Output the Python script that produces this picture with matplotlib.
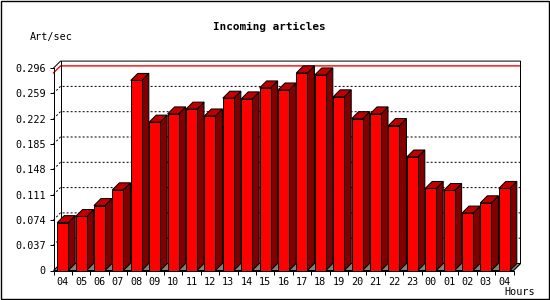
import matplotlib
matplotlib.use("Agg")
import matplotlib.pyplot as plt
from matplotlib.patches import Polygon, Rectangle
from matplotlib.ticker import FixedLocator

# ---- data ----
hours = ["04", "05", "06", "07", "08", "09", "10", "11", "12", "13", "14", "15",
         "16", "17", "18", "19", "20", "21", "22", "23", "00", "01", "02", "03", "04"]
values = [0.070, 0.079, 0.095, 0.118, 0.278, 0.217, 0.229, 0.236, 0.226, 0.252,
          0.251, 0.267, 0.264, 0.289, 0.286, 0.254, 0.222, 0.229, 0.212, 0.166,
          0.120, 0.117, 0.084, 0.099, 0.120]
y_ticks = [0, 0.037, 0.074, 0.111, 0.148, 0.185, 0.222, 0.259, 0.296]
y_tick_labels = ["0", "0.037", "0.074", "0.111", "0.148", "0.185", "0.222", "0.259", "0.296"]
title = "Incoming articles"
y_label = "Art/sec"
x_label = "Hours"

plt.rcParams["font.family"] = ["DejaVu Sans Mono"]

W, H = 550, 300
fig = plt.figure(figsize=(5.5, 3), dpi=100)
fig.patch.set_facecolor("white")

n = len(hours)
ymax = y_ticks[-1]
ax = fig.add_axes([53.5 / W, 29.5 / H, 460 / W, 202.4 / H])
ax.set_xlim(0, n)
ax.set_ylim(0, ymax)
ax.patch.set_visible(False)
for s in ax.spines.values():
    s.set_visible(False)

px_x = n / 460.0
px_y = ymax / 202.4
DX = 7 * px_x
DY = 7 * px_y
LW = 0.72
bw = 0.6

# grid lines on back wall (with diagonal from front axis)
for v in y_ticks[1:-1]:
    ax.plot([0, DX, n + DX], [v, v + DY, v + DY], color="black", lw=LW,
            ls=(0, (2.0, 2.0)), clip_on=False, zorder=1)

# max line
vm = max(values)
ax.plot([0, DX, n + DX], [vm, vm + DY, vm + DY], color="#ff0000", lw=1.0,
        clip_on=False, zorder=1.5)

# back box
ax.plot([0, DX, n + DX, n + DX, n], [ymax, ymax + DY, ymax + DY, DY, 0],
        color="black", lw=LW, clip_on=False, zorder=1.6)
ax.plot([DX, DX], [DY, ymax + DY], color="black", lw=LW, clip_on=False, zorder=1.6)

# floor
ax.add_patch(Polygon([(0, 0), (n, 0), (n + DX, DY), (DX, DY)], closed=True,
                     fc="#808080", ec="black", lw=LW, clip_on=False, zorder=2))

# bars
for i, v in enumerate(values):
    x0 = i + (1 - bw) / 2
    x1 = x0 + bw
    z = 3 + i * 0.01
    ax.add_patch(Polygon([(x1, 0), (x1 + DX, DY), (x1 + DX, v + DY), (x1, v)],
                         closed=True, fc="#800000", ec="black", lw=LW,
                         clip_on=False, zorder=z))
    ax.add_patch(Polygon([(x0, v), (x1, v), (x1 + DX, v + DY), (x0 + DX, v + DY)],
                         closed=True, fc="#c00000", ec="black", lw=LW,
                         clip_on=False, zorder=z))
    ax.add_patch(Rectangle((x0, 0), bw, v, fc="#ff0000", ec="black", lw=LW,
                           clip_on=False, zorder=z + 0.001))

# front axes
ax.plot([0, 0], [0, ymax], color="black", lw=LW, clip_on=False, zorder=10)
ax.plot([0, n], [0, 0], color="black", lw=LW, clip_on=False, zorder=10)

# ticks
ax.set_yticks(y_ticks, y_tick_labels)
ax.tick_params(axis="y", length=2.9, width=LW, pad=2.5, labelsize=7.3, direction="out")
ax.set_xticks([i + 0.5 for i in range(n)], hours)
ax.xaxis.set_minor_locator(FixedLocator(list(range(n + 1))))
ax.tick_params(axis="x", which="major", length=0, pad=4.5, labelsize=7.3)
ax.tick_params(axis="x", which="minor", length=2.9, width=LW, direction="out")

fig.text(269.5 / W, 1 - 27 / H, title, ha="center", va="center",
         fontweight="bold", fontsize=7.9)
fig.text(30 / W, 1 - 36.7 / H, y_label, ha="left", va="center", fontsize=7.3)
fig.text(504 / W, 1 - 291.7 / H, x_label, ha="left", va="center", fontsize=7.3)

# outer frame
fig.add_artist(Rectangle((0.5 / W, 1.5 / H), 548.5 / W, 298 / H, transform=fig.transFigure,
                         fill=False, ec="black", lw=1.0))

fig.savefig("out.png", dpi=100)
